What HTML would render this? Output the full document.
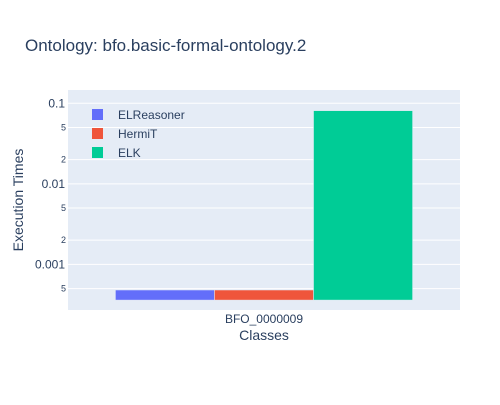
<!DOCTYPE html>
<html><head><meta charset="utf-8"><style>body{margin:0;background:#fff}svg{font-family:"Liberation Sans",sans-serif}</style></head>
<body>
<svg id="c" width="500" height="400">
<rect width="500" height="400" fill="#fff"/>
<text x="25" y="51" font-size="17" fill="#2a3f5f">Ontology: bfo.basic-formal-ontology.2</text>
<rect x="68" y="90" width="392" height="220" fill="#e5ecf6"/>
<g id="grid"></g><g id="bars"></g>
<text x="264" y="323" font-size="12" fill="#2a3f5f" text-anchor="middle">BFO_0000009</text>
<text x="264" y="340" font-size="14" fill="#2a3f5f" text-anchor="middle">Classes</text>
<text transform="translate(23,200) rotate(-90)" font-size="14" fill="#2a3f5f" text-anchor="middle">Execution Times</text>
<g id="legend"></g>
</svg>
<script>
const categories=["BFO_0000009"];
const seriesNames=["ELReasoner","HermiT","ELK"];
const seriesValues=[0.00048,0.00048,0.081];
const colors=["#636efa","#ef553b","#00cc96"];
const baseValue=0.00036;
const majorTicks=[0.1,0.01,0.001];
const majorLabels=["0.1","0.01","0.001"];
const minorTicks=[0.05,0.02,0.005,0.002,0.0005];
const minorLabels=["5","2","5","2","5"];
const NS="http://www.w3.org/2000/svg";
const x0=68,x1=460,yTop=90,yBot=310,lmin=-3.567,lmax=-0.835;
const y=v=>yBot-(Math.log10(v)-lmin)/(lmax-lmin)*(yBot-yTop);
function mk(t,a,p){const e=document.createElementNS(NS,t);for(const k in a)e.setAttribute(k,a[k]);p.appendChild(e);return e;}
const g=document.getElementById('grid');
majorTicks.forEach((v,i)=>{const l=mk('line',{x1:x0,x2:x1,y1:y(v),y2:y(v),stroke:'#fff','stroke-width':1},g);


const t=mk('text',{x:65,y:y(v)+4,'font-size':12,fill:'#2a3f5f','text-anchor':'end'},g);t.textContent=majorLabels[i];

});
minorTicks.forEach((v,i)=>{const l=mk('line',{x1:x0,x2:x1,y1:y(v),y2:y(v),stroke:'#fff','stroke-width':1},g);


const t=mk('text',{x:66,y:y(v)+3,'font-size':9,fill:'#2a3f5f','text-anchor':'end'},g);t.textContent=minorLabels[i];

});
const b=document.getElementById('bars');
const catW=(x1-x0)/categories.length,groupW=catW*0.758,bw=groupW/seriesNames.length;
categories.forEach((c,ci)=>{const gx=x0+catW*ci+(catW-groupW)/2;
seriesValues.forEach((v,si)=>{const top=y(v),bot=y(baseValue);
const r=mk('rect',{x:gx+si*bw,y:top,width:bw,height:bot-top,fill:colors[si],stroke:'#e5ecf6','stroke-width':0.5},b);

});});
const lg=document.getElementById('legend');
seriesNames.forEach((n,i)=>{const yy=115+i*19;
const r=mk('rect',{x:92,y:yy-6,width:11,height:11,fill:colors[i]},lg);


const t=mk('text',{x:118,y:yy+4,'font-size':12,fill:'#2a3f5f'},lg);t.textContent=n;

});
</script>
</body></html>
